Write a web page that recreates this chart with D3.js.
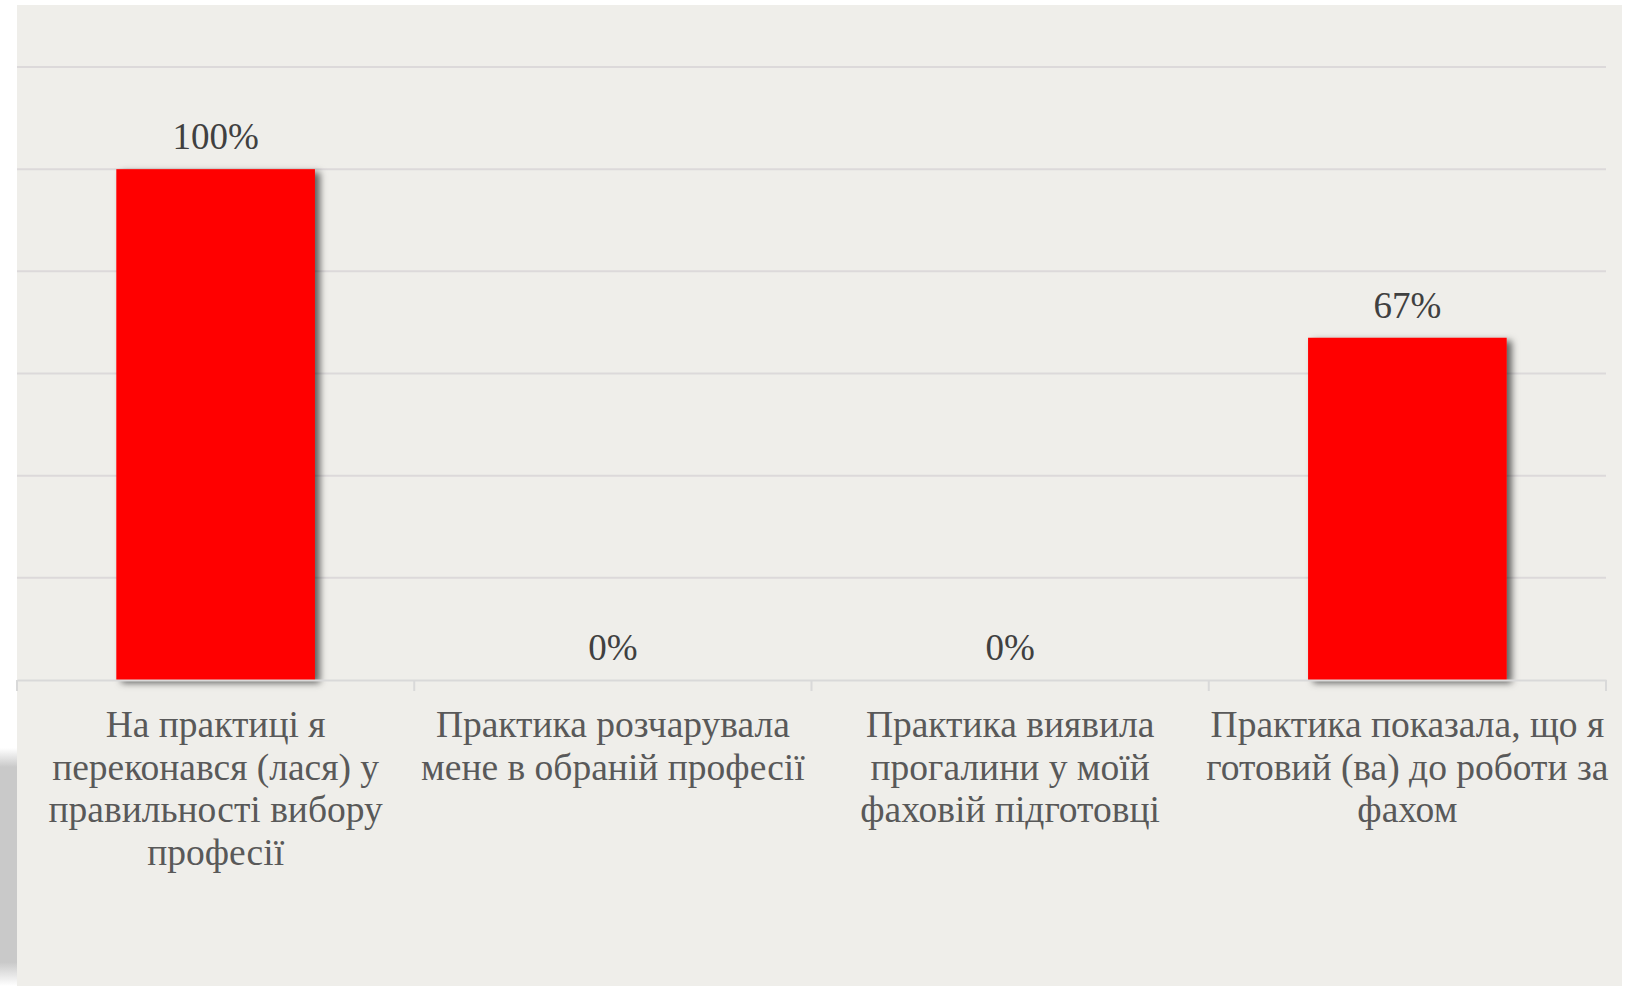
<!DOCTYPE html>
<html>
<head>
<meta charset="utf-8">
<script src="https://cdn.jsdelivr.net/npm/d3@7"></script>
<style>
  html, body { margin: 0; padding: 0; background: #ffffff; }
  svg { display: block; }
</style>
</head>
<body>
<svg id="chart" width="1632" height="986"></svg>
<script>
// ---- data ----
const categories = [
  "На практиці я переконався (лася) у правильності вибору професії",
  "Практика розчарувала мене в обраній професії",
  "Практика виявила прогалини у моїй фаховій підготовці",
  "Практика показала, що я готовий (ва) до роботи за фахом"
];
const categoryLines = [
  ["На практиці я", "переконався (лася) у", "правильності вибору", "професії"],
  ["Практика розчарувала", "мене в обраній професії"],
  ["Практика виявила", "прогалини у моїй", "фаховій підготовці"],
  ["Практика показала, що я", "готовий (ва) до роботи за", "фахом"]
];
const values = [1.00, 0.00, 0.00, 0.67];
const yTicks = [0, 0.2, 0.4, 0.6, 0.8, 1.0, 1.2];

// ---- layout ----
const svg = d3.select("#chart");
const W = 1632, H = 986;
const plot = { left: 17, right: 1606, top: 67, bottom: 680 };

const defs = svg.append("defs");
const sh = defs.append("filter").attr("id", "barShadow")
  .attr("x", "-10%").attr("y", "-10%").attr("width", "130%").attr("height", "130%");
sh.append("feDropShadow").attr("dx", 5).attr("dy", 3).attr("stdDeviation", 3.5)
  .attr("flood-color", "#000").attr("flood-opacity", 0.6);

const lg = defs.append("linearGradient").attr("id", "leftShadow")
  .attr("x1", 0).attr("y1", 0).attr("x2", 0).attr("y2", 1);
lg.append("stop").attr("offset", "0").attr("stop-color", "#c9c9c9").attr("stop-opacity", 0);
lg.append("stop").attr("offset", "0.08").attr("stop-color", "#c9c9c9").attr("stop-opacity", 1);
lg.append("stop").attr("offset", "0.9").attr("stop-color", "#c9c9c9").attr("stop-opacity", 1);
lg.append("stop").attr("offset", "1").attr("stop-color", "#c9c9c9").attr("stop-opacity", 0);

// left slide shadow
svg.append("rect").attr("x", 0).attr("y", 748).attr("width", 17).attr("height", 238)
  .attr("fill", "url(#leftShadow)");

// panel background
svg.append("rect").attr("x", 17).attr("y", 5).attr("width", 1605).attr("height", 981)
  .attr("fill", "#efeeea");

const x = d3.scaleBand().domain(categories).range([plot.left, plot.right]).paddingInner(0.5).paddingOuter(0.25);
const xb = d3.scaleBand().domain(categories).range([plot.left, plot.right]);
const y = d3.scaleLinear().domain([0, 1.2]).range([plot.bottom, plot.top]);

// gridlines
svg.append("g").selectAll("line").data(yTicks.filter(t => t > 0)).join("line")
  .attr("x1", plot.left).attr("x2", plot.right)
  .attr("y1", d => y(d)).attr("y2", d => y(d))
  .attr("stroke", "#dcd9da").attr("stroke-width", 2);

// bars
svg.append("g").selectAll("rect").data(values).join("rect")
  .attr("x", (d, i) => x(categories[i]))
  .attr("width", x.bandwidth())
  .attr("y", d => y(d))
  .attr("height", d => y(0) - y(d))
  .attr("fill", "#ff0000")
  .attr("filter", "url(#barShadow)")
  .style("display", d => d > 0 ? null : "none");

// x axis
const xAxis = d3.axisBottom(xb).tickSize(0).tickFormat("");
const ax = svg.append("g").attr("transform", `translate(0,${plot.bottom})`).call(xAxis);
ax.select(".domain").attr("stroke", "#d9d9d9").attr("stroke-width", 2);
// boundary ticks
const bounds = categories.map(c => xb(c)).concat([plot.right]);
svg.append("g").selectAll("line").data(bounds).join("line")
  .attr("x1", d => d).attr("x2", d => d)
  .attr("y1", plot.bottom).attr("y2", plot.bottom + 11)
  .attr("stroke", "#d9d9d9").attr("stroke-width", 2);

// data labels
svg.append("g").selectAll("text").data(values).join("text")
  .attr("x", (d, i) => xb(categories[i]) + xb.bandwidth() / 2)
  .attr("y", d => y(d) - 20)
  .attr("text-anchor", "middle")
  .attr("font-family", "'Liberation Serif', 'Times New Roman', serif")
  .attr("font-size", 37)
  .attr("fill", "#404040")
  .text(d => d3.format(".0%")(d));

// category labels
const cg = svg.append("g");
categoryLines.forEach((lines, i) => {
  const t = cg.append("text")
    .attr("x", xb(categories[i]) + xb.bandwidth() / 2)
    .attr("y", plot.bottom + 57)
    .attr("text-anchor", "middle")
    .attr("font-family", "'Liberation Serif', 'Times New Roman', serif")
    .attr("font-size", 37.5)
    .attr("fill", "#595959");
  lines.forEach((ln, j) => {
    t.append("tspan").attr("x", xb(categories[i]) + xb.bandwidth() / 2)
      .attr("dy", j === 0 ? 0 : 42.5).text(ln);
  });
});
</script>
</body>
</html>
